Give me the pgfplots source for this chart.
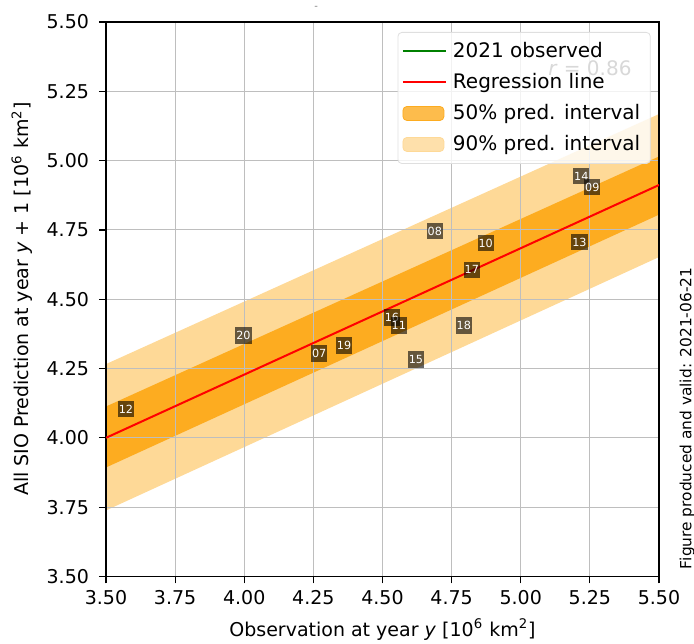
\documentclass[border=0pt]{standalone}
\usepackage{fontspec}
\setmainfont{DejaVu Sans}
\usepackage{pgfplots}
\pgfplotsset{compat=1.18}
\usepackage{pgfplotstable}
\usetikzlibrary{calc}

\definecolor{band50}{RGB}{253,172,32}
\definecolor{band90}{RGB}{254,217,151}
\definecolor{gridgray}{RGB}{190,190,190}
\definecolor{obsgreen}{RGB}{0,128,0}

% observation y, prediction y+1, year label
\pgfplotstableread{
x     y     lab
3.572 4.103 12
3.997 4.369 20
4.271 4.304 07
4.361 4.333 19
4.534 4.434 16
4.559 4.405 11
4.621 4.283 15
4.794 4.405 18
4.689 4.746 08
4.873 4.703 10
4.823 4.606 17
5.212 4.706 13
5.219 4.943 14
5.259 4.904 09
}\years

\begin{document}
\begin{tikzpicture}
\begin{axis}[
    name=ax,
    set layers=standard,
    width=276.5pt, height=277.2pt, scale only axis,
    xmin=3.5, xmax=5.5, ymin=3.5, ymax=5.5,
    xtick={3.5,3.75,...,5.5}, ytick={3.5,3.75,...,5.5},
    xticklabel style={/pgf/number format/.cd, fixed, fixed zerofill, precision=2},
    yticklabel style={/pgf/number format/.cd, fixed, fixed zerofill, precision=2, /tikz/.cd, xshift=-1.5pt},
    /pgf/number format/assume math mode=true,
    tick label style={font=\fontsize{9.5}{11}\selectfont},
    label style={font=\fontsize{9.5}{11}\selectfont},
    xlabel={Observation at year \textit{y} [10\textsuperscript{6} km\textsuperscript{2}]},
    ylabel={All SIO Prediction at year \textit{y} + 1 [10\textsuperscript{6} km\textsuperscript{2}]},
    grid=major, grid style={gridgray, line width=0.5pt},
    axis line style={line width=0.7pt},
    tick style={black, line width=0.6pt},
    tick align=outside, xtick pos=bottom, ytick pos=left,
    major tick length=3.5pt,
    legend cell align=left,
    legend style={at={(0.985,0.982)}, anchor=north east,
        font=\fontsize{10}{12}\selectfont,
        fill=white, fill opacity=0.8, text opacity=1,
        draw=gray!25, rounded corners=2pt,
        row sep=2.4pt, inner xsep=2pt, inner ysep=3pt,
        nodes={inner xsep=3pt}},
]
% prediction bands
\addplot[draw=none, fill=band90, on layer=axis background, forget plot]
  coordinates {(3.5,3.738) (5.5,4.652) (5.5,5.168) (3.5,4.266)} -- cycle;
\addplot[draw=none, fill=band50, on layer=axis background, forget plot]
  coordinates {(3.5,3.893) (5.5,4.805) (5.5,5.015) (3.5,4.113)} -- cycle;

\addlegendimage{legend image code/.code={\draw[obsgreen, line width=1pt] (0pt,0pt) -- (21.5pt,0pt);}}
\addlegendentry{2021 observed}
\addplot[red, line width=1pt,
    legend image code/.code={\draw[red, line width=1pt] (0pt,0pt) -- (21.5pt,0pt);}]
  coordinates {(3.5,4.0) (5.5,4.912)};
\addlegendentry{Regression line}
\addlegendimage{legend image code/.code={\fill[band50] (0pt,-3.5pt) rectangle (20.5pt,3.5pt);}}
\addlegendentry{50\% pred. interval}
\addlegendimage{legend image code/.code={\fill[band90] (0pt,-3.5pt) rectangle (20.5pt,3.5pt);}}
\addlegendentry{90\% pred. interval}

\node[color={rgb,255:red,60;green,60;blue,60}, font=\fontsize{10}{12}\selectfont] at (axis cs:5.25,5.334) {\textit{r} = 0.86};

\addplot[draw=none, mark=none, forget plot,
    point meta=explicit symbolic,
    nodes near coords,
    nodes near coords style={anchor=center, fill=black, fill opacity=0.6,
        text opacity=1, text=white, inner xsep=0.5pt, inner ysep=2pt,
        font=\fontsize{5.6}{6}\selectfont}]
  table[x=x, y=y, meta=lab] {\years};
\end{axis}
\node[rotate=90, font=\fontsize{7.7}{9}\selectfont] at ($(ax.south east)!0.285!(ax.north east) + (14pt,0)$) {Figure produced and valid: 2021-06-21};
\node[gray, font=\fontsize{5}{5}\selectfont] at ($(ax.north west)!0.38!(ax.north east) + (0,7pt)$) {-};
\pgfresetboundingbox
\path[use as bounding box] ([xshift=-53pt,yshift=-33.5pt]ax.south west) rectangle ([xshift=17.5pt,yshift=11pt]ax.north east);
\end{tikzpicture}
\end{document}
